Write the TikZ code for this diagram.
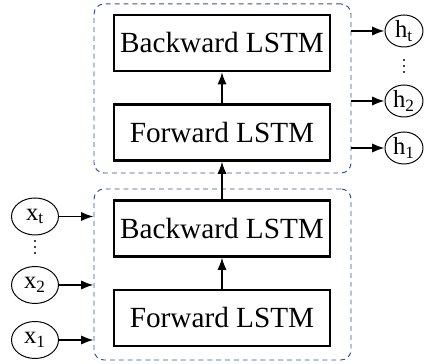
\documentclass[tikz,border=0pt]{standalone}
\usepackage{fontspec}
\setmainfont{Liberation Serif}
\usepackage{tikz}
\usetikzlibrary{arrows.meta,positioning,shapes.geometric}
\definecolor{dashblue}{HTML}{2F5597}

\begin{document}
\begin{tikzpicture}[
    % GLOBAL CFG
    >=LaTeX,
    % Styles
    layer/.style={% For the dashed groups
        rectangle,
        rounded corners=2.5mm,
        draw=dashblue,
        line width=.7pt,
        dash pattern=on 3.5pt off 2.8pt,
        minimum width=6.425cm,
        },
    lstm/.style={% For the LSTM boxes
        rectangle,
        draw,
        line width=1.5pt,
        minimum width=5.4cm,
        minimum height=1.4cm,
        font=\fontsize{20.8}{24}\selectfont,
        },
    inp/.style={% For the inputs x
        ellipse,
        draw,
        line width=.7pt,
        minimum width=1.175cm,
        minimum height=.925cm,
        inner sep=0pt,
        font=\fontsize{17.5}{20}\selectfont,
        },
    outp/.style={% For the outputs h
        ellipse,
        draw,
        line width=.7pt,
        minimum width=.95cm,
        minimum height=.8cm,
        inner sep=0pt,
        font=\fontsize{17.5}{20}\selectfont,
        },
    Arrow/.style={% Arrows
        ->,
        line width=1.3pt,
        },
    ]
    \useasboundingbox (0,0) rectangle (10.675,9.1);

    % Draw the two dashed groups
    \node [layer, minimum height=4.225cm] (top) at (5.5625,6.8875) {};
    \node [layer, minimum height=4.275cm] (bot) at (5.5625,2.2375) {};

    % Draw the LSTM boxes
    \node [lstm] (bw2) at (5.55,8.025) {Backward LSTM};
    \node [lstm] (fw2) at (5.55,5.7875) {Forward LSTM};
    \node [lstm] (bw1) at (5.55,3.3875) {Backward LSTM};
    \node [lstm] (fw1) at (5.55,1.15) {Forward LSTM};

    % Inputs
    \node [inp] (xt) at (0.875,3.6875) {x\textsubscript{t}};
    \node [inp] (x2) at (0.875,1.975) {x\textsubscript{2}};
    \node [inp] (x1) at (0.875,0.6) {x\textsubscript{1}};
    \coordinate (xdots) at (0.875,2.925);

    % Outputs
    \node [outp] (ht) at (10.1,8.325) {h\textsubscript{t}};
    \node [outp] (h2) at (10.1,6.575) {h\textsubscript{2}};
    \node [outp] (h1) at (10.1,5.4) {h\textsubscript{1}};
    \coordinate (hdots) at (10.1,7.45);

    % the dots
    \foreach \d in {-0.15,0,0.15} {
        \fill (xdots) ++(0,\d) circle (0.03);
        \fill (hdots) ++(0,\d) circle (0.03);
    }

    % Connections
    \draw [Arrow] (fw1) -- (bw1);
    \draw [Arrow] (bw1) -- (fw2);
    \draw [Arrow] (fw2) -- (bw2);

    \foreach \n in {xt,x2,x1}
        \draw [Arrow] (\n) -- (\n -| bot.west);
    \foreach \n in {ht,h2,h1}
        \draw [Arrow] (\n -| top.east) -- (\n);

\end{tikzpicture}
\end{document}
